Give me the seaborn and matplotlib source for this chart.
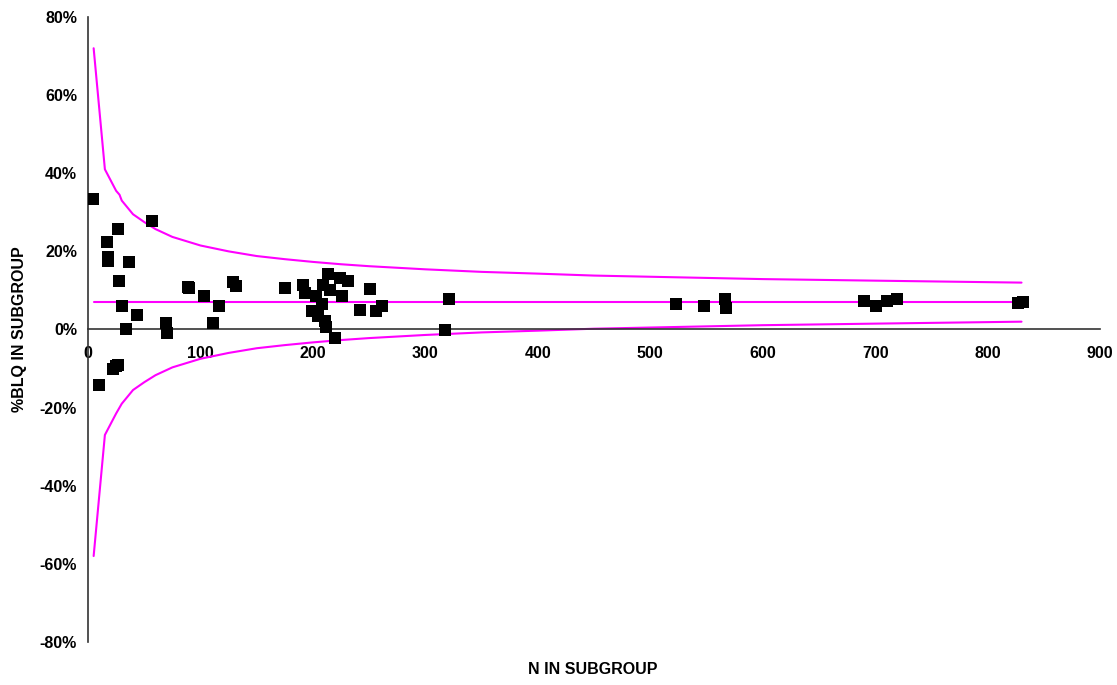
import numpy as np
import pandas as pd
import matplotlib
matplotlib.use('Agg')
import matplotlib.pyplot as plt
from matplotlib.ticker import FuncFormatter, MultipleLocator
import seaborn as sns

# ── data ──────────────────────────────────────────────────
n_subgroup = [4, 10, 16.6, 18, 18, 22.5, 24.6, 26.4, 27, 27.8, 30.5, 33.8, 36.4,
              43.8, 56.6, 69.3, 70.5, 89, 90, 103.4, 110.8, 116.4, 129, 132,
              175, 191.4, 193, 198.8, 203, 204.7, 207.7, 209, 210.7, 212, 213.6,
              215, 219.6, 224, 226, 231, 241.8, 250.7, 256, 261, 317, 321,
              523, 548, 566, 567, 690, 701, 710.5, 719, 827, 831]
pct_blq    = [33.4, -14.3, 22.3, 18.5, 17.5, -10.2, -9.4, 25.6, -9.2, 12.4, 6.0, 0.0, 17.4,
              3.6, 27.7, 1.7, -0.9, 10.9, 10.6, 8.5, 1.7, 6.0, 12.1, 11.1,
              10.5, 11.5, 9.4, 4.7, 8.5, 3.4, 6.4, 11.5, 2.1, 0.7, 14.1,
              10.2, -2.1, 13.2, 8.7, 12.4, 5.1, 10.4, 4.7, 6.0, -0.2, 7.8,
              6.6, 6.1, 7.8, 5.5, 7.2, 6.1, 7.2, 7.8, 6.8, 7.0]

limit_n     = [5, 15, 25, 28, 30, 40, 50, 60, 75, 100, 125, 150, 175, 200, 225, 250,
               300, 350, 400, 450, 500, 600, 700, 830]
upper_limit = [72, 41, 35.5, 34.5, 33, 29.5, 27.5, 25.7, 23.7, 21.5, 20.0, 18.8, 18.0, 17.3,
               16.7, 16.2, 15.4, 14.75, 14.3, 13.8, 13.5, 12.9, 12.5, 12.0]
lower_limit = [-58, -27, -21.5, -20, -19, -15.5, -13.5, -11.7, -9.7, -7.5, -6.0, -4.8, -4.0,
               -3.3, -2.7, -2.2, -1.4, -0.75, -0.3, 0.2, 0.5, 1.1, 1.5, 2.0]
center_line = [7.1] * len(limit_n)

pts = pd.DataFrame({'n': n_subgroup, 'pct': pct_blq})
lims = pd.DataFrame({'n': limit_n, 'upper': upper_limit,
                     'lower': lower_limit, 'center': center_line})

# ── style ─────────────────────────────────────────────────
sns.set_theme(style="white")
plt.rcParams['font.family'] = ['Liberation Sans', 'DejaVu Sans']
plt.rcParams['axes.unicode_minus'] = False

MAGENTA = '#FF00FF'

fig = plt.figure(figsize=(11.17, 6.85), dpi=100)
ax = fig.add_axes([0.0788, 0.0628, 0.9062, 0.9124])

for col in ['upper', 'center', 'lower']:
    sns.lineplot(data=lims, x='n', y=col, color=MAGENTA, linewidth=1.5,
                 ax=ax, zorder=2, sort=False)

sns.scatterplot(data=pts, x='n', y='pct', marker='s', s=72, color='black',
                edgecolor='black', linewidth=0, ax=ax, zorder=3)

ax.set_xlim(0, 900)
ax.set_ylim(-80, 80)
ax.xaxis.set_major_locator(MultipleLocator(100))
ax.yaxis.set_major_locator(MultipleLocator(20))
ax.yaxis.set_major_formatter(FuncFormatter(lambda v, _: f"{v:.0f}%"))

ax.spines['top'].set_visible(False)
ax.spines['right'].set_visible(False)
ax.spines['bottom'].set_position(('data', 0))
for sp in ['left', 'bottom']:
    ax.spines[sp].set_color('#333333')
    ax.spines[sp].set_linewidth(1.2)

ax.tick_params(axis='both', which='major', direction='out', length=5, width=1.2,
               color='#333333', labelcolor='black', labelsize=11.5, pad=3)
ax.tick_params(axis='x', pad=7)
for lab in ax.get_xticklabels() + ax.get_yticklabels():
    lab.set_fontweight('bold')

ax.set_xlabel('')
ax.set_ylabel('%BLQ IN SUBGROUP', fontsize=11.5, fontweight='bold',
              color='black', labelpad=9)
fig.text(0.531, 0.022, 'N IN SUBGROUP', ha='center', va='center',
         fontsize=11.5, fontweight='bold', color='black')

plt.savefig('out.png', dpi=100)
